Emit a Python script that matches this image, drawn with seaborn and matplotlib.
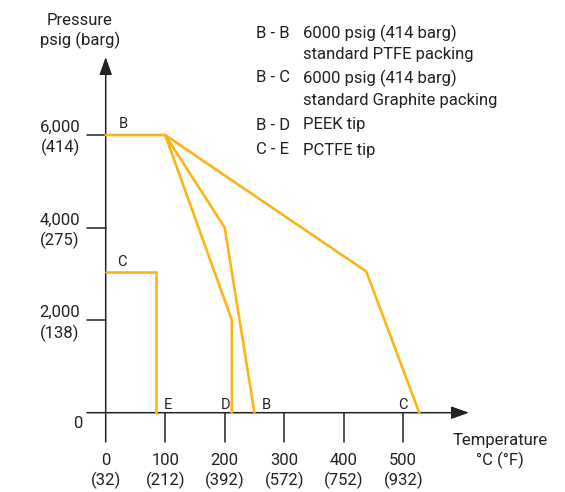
import matplotlib
matplotlib.use("Agg")
import matplotlib.pyplot as plt
import seaborn as sns
import pandas as pd
from matplotlib import font_manager

# ---- data ----
ptfe_T = [0, 100, 200, 250]
ptfe_P = [6000, 6000, 4000, 0]
graphite_T = [100, 438, 527]
graphite_P = [6000, 3050, 0]
peek_T = [100, 212, 212]
peek_P = [6000, 2000, 0]
pctfe_T = [0, 85, 85]
pctfe_P = [3030, 3030, 0]

x_ticks = [0, 100, 200, 300, 400, 500]
x_tick_labels = ["0\n(32)", "100\n(212)", "200\n(392)", "300\n(572)", "400\n(752)", "500\n(932)"]
y_ticks = [2000, 4000, 6000]
y_tick_labels = ["2,000\n(138)", "4,000\n(275)", "6,000\n(414)"]

legend_codes = ["B - B", "", "B - C", "", "B - D", "C - E"]
legend_texts = ["6000 psig (414 barg)", "standard PTFE packing",
                "6000 psig (414 barg)", "standard Graphite packing",
                "PEEK tip", "PCTFE tip"]

point_labels = ["B", "C", "E", "D", "B", "C"]
point_label_T = [29, 27, 105, 201, 270, 500]
point_label_P = [6234, 3256, 166, 166, 166, 166]

sns.set_theme(style="white")
names = {f.name for f in font_manager.fontManager.ttflist}
fam = "Roboto" if "Roboto" in names else "DejaVu Sans"
plt.rcParams['font.family'] = [fam, 'DejaVu Sans']
plt.rcParams['font.stretch'] = 'normal'

LINE = "#FDB515"
INK = "#222222"
FS = 12
LS = 1.3

fig = plt.figure(figsize=(5.65, 4.92), dpi=100)
ax = fig.add_axes([0, 0, 1, 1])
ax.set_axis_off()

# pixel mapping
px_per_T = 0.595
px_per_P = 0.04628
x0px, y0px = 105.7, 412.7
ax.set_xlim(-x0px / px_per_T, (565 - x0px) / px_per_T)
ax.set_ylim(-(492 - y0px) / px_per_P, y0px / px_per_P)

def tx(px):
    return (px - x0px) / px_per_T

def ty(py):
    return (y0px - py) / px_per_P

series = [(ptfe_T, ptfe_P), (graphite_T, graphite_P), (peek_T, peek_P), (pctfe_T, pctfe_P)]
for i, (t, p) in enumerate(series):
    df = pd.DataFrame({"T": t, "P": p})
    sns.lineplot(data=df, x="T", y="P", sort=False, estimator=None, ax=ax,
                 color=LINE, lw=1.9, zorder=3, solid_joinstyle="miter")

# axes with arrows
ax.annotate("", xy=(tx(469), 0), xytext=(tx(87), 0),
            arrowprops=dict(arrowstyle="-|>,head_length=0.9,head_width=0.32",
                            color=INK, lw=1.1, shrinkA=0, shrinkB=0), zorder=2)
ax.annotate("", xy=(0, ty(57)), xytext=(0, ty(442)),
            arrowprops=dict(arrowstyle="-|>,head_length=0.9,head_width=0.32",
                            color=INK, lw=1.1, shrinkA=0, shrinkB=0), zorder=2)

for t, lab in zip(x_ticks, x_tick_labels):
    if t != 0:
        ax.plot([t, t], [0, ty(442)], color=INK, lw=1.1, zorder=2)
    ax.text(t, ty(471), lab, ha="center", va="center", fontsize=FS, color=INK,
            linespacing=1.25)

for p, lab in zip(y_ticks, y_tick_labels):
    ax.plot([tx(87), 0], [p, p], color=INK, lw=1.1, zorder=2)
    ax.text(tx(60), p - 70, lab, ha="center", va="center", fontsize=FS, color=INK,
            linespacing=LS)
ax.text(tx(78), ty(424), "0", ha="center", va="center", fontsize=FS, color=INK)

ax.text(tx(80), ty(31), "Pressure\npsig (barg)", ha="center", va="center",
        fontsize=FS, color=INK, linespacing=LS)
ax.text(tx(500), ty(451), "Temperature\n°C (°F)", ha="center", va="center",
        fontsize=FS, color=INK, linespacing=LS)

legend_y = [33, 55, 78, 100, 125, 150]
for code, txt, py in zip(legend_codes, legend_texts, legend_y):
    if code:
        ax.text(tx(256), ty(py), code, ha="left", va="center", fontsize=FS, color=INK)
    ax.text(tx(303), ty(py), txt, ha="left", va="center", fontsize=FS, color=INK)

for lab, t, p in zip(point_labels, point_label_T, point_label_P):
    ax.text(t, p, lab, ha="center", va="center", fontsize=FS - 1.5, color=INK)

fig.savefig("out.png", dpi=100)
